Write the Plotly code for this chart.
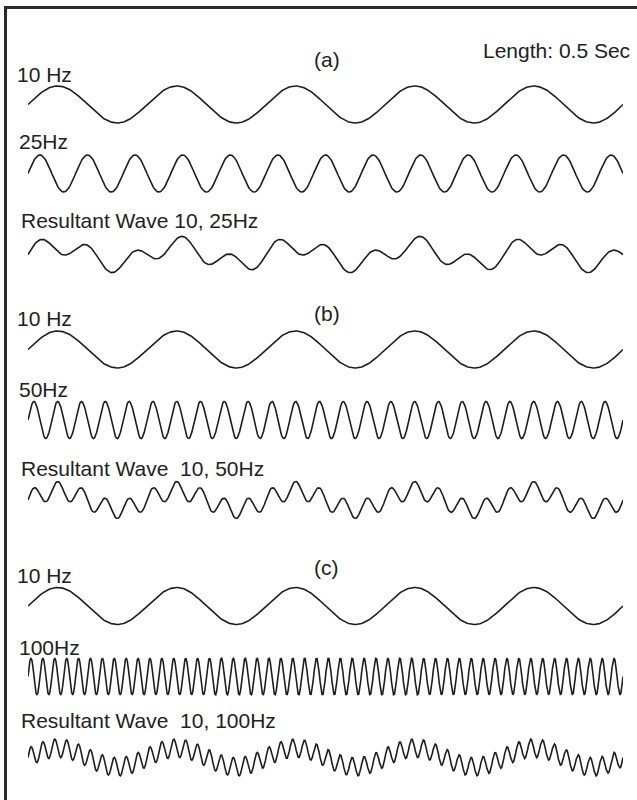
import numpy as np
import plotly.graph_objects as go

# ---------------- data ----------------
DURATION_S = 0.5                      # "Length: 0.5 Sec"
BASE_FREQ_HZ = [10, 10, 10]           # first wave of each panel
ADDED_FREQ_HZ = [25, 50, 100]         # second wave of each panel
PANEL_LABELS = ["(a)", "(b)", "(c)"]
BASE_LABELS = ["10 Hz", "10 Hz", "10 Hz"]
ADDED_LABELS = ["25Hz", "50Hz", "100Hz"]
RESULT_LABELS = ["Resultant Wave 10, 25Hz",
                 "Resultant Wave  10, 50Hz",
                 "Resultant Wave  10, 100Hz"]
LENGTH_LABEL = "Length: 0.5 Sec"
N_SAMPLES = 600

# ---------------- layout (pixels) ----------------
W, H = 637, 800
X_LEFT, X_RIGHT = 28, 623
AMP_PX = 18.5
PAD = 1.15
ROW_MID = [104.5, 173.5, 254.5, 349.5, 420.0, 500.0, 606.0, 676.5, 757.5]
LABEL_Y = [74, 141, 220, 318, 389, 468, 575, 647, 720]
LABEL_X = [15, 17, 19, 15, 17, 19, 15, 17, 19]
PANEL_Y = [60, 313, 567]
PANEL_X = 312
LINE_COLOR = "#1e1e1e"
TEXT_COLOR = "#222222"
FONT = "Liberation Sans, Arial, sans-serif"
FSIZE = 21


def px_x(p):
    return p / W


def px_y(p):
    return 1 - p / H


t = np.linspace(0, DURATION_S, N_SAMPLES)

series = []
for f1, f2 in zip(BASE_FREQ_HZ, ADDED_FREQ_HZ):
    s1 = np.sin(2 * np.pi * f1 * t)
    s2 = np.sin(2 * np.pi * f2 * t)
    series += [s1, s2, (s1 + s2) / 2]

fig = go.Figure()
layout_axes = {}
for i, y in enumerate(series):
    name = "y" if i == 0 else f"y{i + 1}"
    key = "yaxis" if i == 0 else f"yaxis{i + 1}"
    fig.add_trace(go.Scatter(x=t, y=y, mode="lines", xaxis="x", yaxis=name,
                             line=dict(color=LINE_COLOR, width=1.6),
                             hoverinfo="skip", showlegend=False))
    mid = ROW_MID[i]
    half = AMP_PX * PAD
    layout_axes[key] = dict(domain=[px_y(mid + half), px_y(mid - half)],
                            range=[-PAD, PAD], visible=False, fixedrange=True,
                            anchor="x")

fig.update_layout(**layout_axes)
fig.update_layout(
    xaxis=dict(domain=[px_x(X_LEFT), px_x(X_RIGHT)], range=[0, DURATION_S],
               visible=False, fixedrange=True),
    width=W, height=H, autosize=False,
    margin=dict(l=0, r=0, t=0, b=0),
    paper_bgcolor="white", plot_bgcolor="rgba(0,0,0,0)",
    font=dict(family=FONT, size=FSIZE, color=TEXT_COLOR),
    showlegend=False,
)

labels = []
for p in range(3):
    labels += [BASE_LABELS[p], ADDED_LABELS[p], RESULT_LABELS[p]]

annotations = []
for i, txt in enumerate(labels):
    annotations.append(dict(text=txt.replace("  ", "&nbsp; "), x=px_x(LABEL_X[i]), y=px_y(LABEL_Y[i]),
                            xref="paper", yref="paper", xanchor="left",
                            yanchor="middle", showarrow=False))
for p in range(3):
    annotations.append(dict(text=PANEL_LABELS[p], x=px_x(PANEL_X), y=px_y(PANEL_Y[p]),
                            xref="paper", yref="paper", xanchor="left",
                            yanchor="middle", showarrow=False))
annotations.append(dict(text=LENGTH_LABEL, x=px_x(632), y=px_y(51),
                        xref="paper", yref="paper", xanchor="right",
                        yanchor="middle", showarrow=False))
fig.update_layout(annotations=annotations)

# frame (top and left edges visible in the reference)
fig.update_layout(shapes=[
    dict(type="line", xref="paper", yref="paper", x0=px_x(4), x1=1.0,
         y0=px_y(7.5), y1=px_y(7.5), line=dict(color="#2a2a2a", width=3)),
    dict(type="line", xref="paper", yref="paper", x0=px_x(5.5), x1=px_x(5.5),
         y0=px_y(6), y1=0.0, line=dict(color="#2a2a2a", width=3)),
])

fig.write_html("out.html", config={"displayModeBar": False, "staticPlot": True},
               post_script="document.body.style.margin='0';")
